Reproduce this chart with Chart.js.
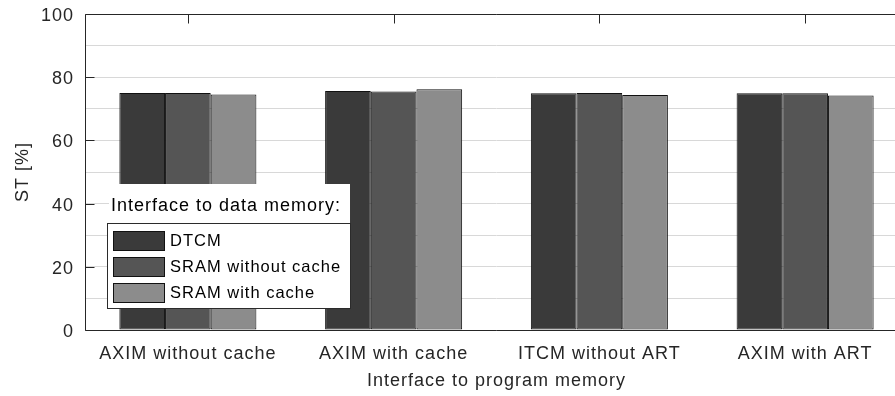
<!DOCTYPE html>
<html>
<head>
<meta charset="utf-8">
<script src="https://cdn.jsdelivr.net/npm/chart.js@4/dist/chart.umd.min.js"></script>
<style>
  html, body { margin: 0; padding: 0; background: #ffffff; overflow: hidden; }
  #wrap { width: 895px; height: 396px; overflow: hidden; }
  canvas { display: block; }
</style>
</head>
<body>
<div id="wrap"><canvas id="chart" width="920" height="396"></canvas></div>
<script>
// Program-memory interfaces (groups along x)
const categories = ['AXIM without cache', 'AXIM with cache', 'ITCM without ART', 'AXIM with ART'];

// Data-memory interfaces (one bar per group each)
const seriesNames = ['DTCM', 'SRAM without cache', 'SRAM with cache'];
const dtcmValues = [75.0, 75.6, 74.9, 74.9];
const sramNoCacheValues = [75.0, 75.5, 75.0, 74.9];
const sramCacheValues = [74.5, 76.2, 74.4, 74.2];

// Value axis
const yMin = 0;
const yMax = 100;
const yGridStep = 10;
const yLabelStep = 20;

const legendTitle = 'Interface to data memory:';
const xTitle = 'Interface to program memory';
const yTitle = 'ST [%]';

const fills = ['#3a3a3a', '#555555', '#8c8c8c'];
const inkColor = '#262626';
const fontFamily = '"Liberation Sans", Arial, Helvetica, sans-serif';

const spacing = {
  id: 'spacing',
  beforeUpdate(chart) { chart.ctx.letterSpacing = '1px'; },
  beforeDraw(chart) { chart.ctx.letterSpacing = '1px'; }
};

// Axis box, inward ticks and the boxed legend
const frameAndLegend = {
  id: 'frameAndLegend',
  afterDatasetsDraw(chart) {
    const { ctx, chartArea, scales } = chart;
    const { left, right, top, bottom } = chartArea;
    const x = scales.x, y = scales.y;
    ctx.save();
    ctx.strokeStyle = inkColor;
    ctx.lineWidth = 1;
    const L = Math.round(left) + 0.5;
    const T = Math.round(top) + 0.5;
    const B = Math.round(bottom) + 0.5;
    ctx.beginPath();
    ctx.moveTo(L, T); ctx.lineTo(right, T);
    ctx.moveTo(L, T); ctx.lineTo(L, B);
    ctx.moveTo(L, B); ctx.lineTo(right, B);
    for (let v = yMin; v <= yMax; v += yLabelStep) {
      const py = Math.round(y.getPixelForValue(v)) + 0.5;
      ctx.moveTo(L, py); ctx.lineTo(L + 9, py);
    }
    categories.forEach((c, i) => {
      const px = Math.round(x.getPixelForValue(i)) + 0.5;
      ctx.moveTo(px, T); ctx.lineTo(px, T + 9);
    });
    ctx.stroke();

    // legend title on a white patch
    ctx.fillStyle = '#ffffff';
    ctx.fillRect(109, 184, 241, 40);
    ctx.letterSpacing = '1px';
    ctx.font = '18px ' + fontFamily;
    ctx.fillStyle = '#000000';
    ctx.textBaseline = 'middle';
    ctx.textAlign = 'left';
    ctx.fillText(legendTitle, 111, 206);

    // legend box
    ctx.fillStyle = '#ffffff';
    ctx.fillRect(107, 223, 243, 85);
    ctx.strokeStyle = '#2b2b2b';
    ctx.strokeRect(107.5, 223.5, 243, 85);

    ctx.font = '16.5px ' + fontFamily;
    chart.data.datasets.forEach((ds, i) => {
      const sy = 231 + i * 25.8;
      ctx.fillStyle = ds.backgroundColor;
      ctx.fillRect(113, Math.round(sy), 51, 19);
      ctx.strokeStyle = '#111111';
      ctx.strokeRect(113.5, Math.round(sy) + 0.5, 51, 19);
      ctx.fillStyle = '#000000';
      ctx.fillText(ds.label, 170, Math.round(sy) + 10);
    });
    ctx.restore();
  }
};

const makeSet = (label, data, color) => ({
  label, data,
  backgroundColor: color,
  borderColor: '#111111',
  borderWidth: 1,
  borderSkipped: false,
  barPercentage: 1.0,
  categoryPercentage: 0.666
});

new Chart(document.getElementById('chart'), {
  type: 'bar',
  data: {
    labels: categories,
    datasets: [
      makeSet(seriesNames[0], dtcmValues, fills[0]),
      makeSet(seriesNames[1], sramNoCacheValues, fills[1]),
      makeSet(seriesNames[2], sramCacheValues, fills[2])
    ]
  },
  options: {
    responsive: false,
    animation: false,
    devicePixelRatio: 1,
    layout: { padding: { top: 14, right: 12, left: 0, bottom: 0 } },
    plugins: {
      legend: { display: false },
      tooltip: { enabled: false }
    },
    scales: {
      x: {
        grid: { display: false, drawTicks: false },
        border: { display: false },
        ticks: {
          color: inkColor,
          font: { family: fontFamily, size: 18 },
          padding: 13,
          maxRotation: 0
        },
        title: {
          display: true,
          text: xTitle,
          color: inkColor,
          font: { family: fontFamily, size: 18 },
          padding: { top: 0, bottom: 4 }
        },
        afterFit(scale) {
          scale.height = 66;
          scale.paddingLeft = 0;
          scale.paddingRight = 0;
        }
      },
      y: {
        min: yMin,
        max: yMax,
        grid: { color: '#d8d8d8', lineWidth: 1, drawTicks: false },
        border: { display: false },
        ticks: {
          stepSize: yGridStep,
          color: inkColor,
          font: { family: fontFamily, size: 18 },
          padding: 11,
          labelOffset: 2,
          callback: (v) => (v % yLabelStep === 0 ? v : '')
        },
        title: {
          display: true,
          text: yTitle,
          color: inkColor,
          font: { family: fontFamily, size: 18 },
          padding: { top: 12, bottom: 0 }
        },
        afterFit(scale) {
          scale.width = 85;
          scale.paddingTop = 0;
          scale.paddingBottom = 0;
        }
      }
    }
  },
  plugins: [spacing, frameAndLegend]
});
</script>
</body>
</html>
